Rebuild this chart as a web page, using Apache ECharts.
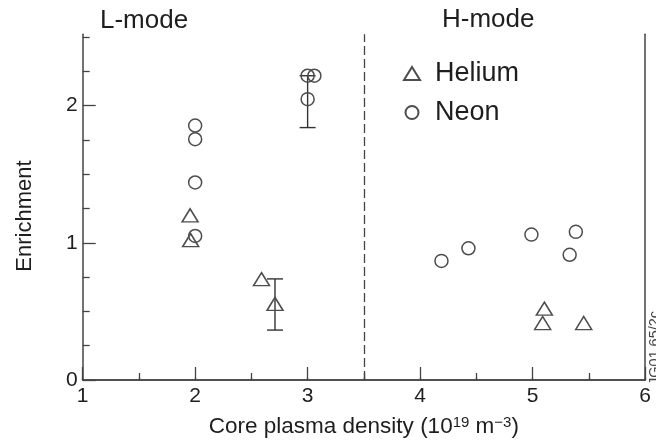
<!DOCTYPE html>
<html><head><meta charset="utf-8">
<script src="https://cdn.jsdelivr.net/npm/echarts@6/dist/echarts.min.js"></script>
<style>html,body{margin:0;padding:0;background:#fff}#chart{width:656px;height:443px}</style>
</head><body><div id="chart"></div>
<script>
// Impurity enrichment versus core plasma density, L-mode and H-mode discharges
const xMin = 1, xMax = 6;
const yMin = 0, yMax = 2.52;
const yMajorTicks = [0, 1, 2];
const yMinorTicks = [0.25, 0.5, 0.75, 1.25, 1.5, 1.75, 2.25, 2.5];
const modeBoundary = 3.5;

const heliumDensity    = [1.955, 1.96, 2.59, 2.71, 5.105, 5.09, 5.455];
const heliumEnrichment = [1.20, 1.02, 0.735, 0.555, 0.52, 0.415, 0.415];

const neonDensity    = [2.0, 2.0, 2.0, 2.0, 3.0, 3.06, 3.0, 4.19, 4.43, 4.99, 5.33, 5.385];
const neonEnrichment = [1.855, 1.755, 1.44, 1.05, 2.218, 2.218, 2.047, 0.868, 0.96, 1.06, 0.913, 1.08];

// error bars: density, lower and upper enrichment
const errDensity = [3.0, 2.71];
const errLow     = [1.84, 0.364];
const errHigh    = [2.218, 0.737];

const FONT = '"Liberation Sans", Arial, Helvetica, sans-serif';
const INK = '#1e1e1e';
const LINE = '#444';
const MARK = '#4d4d4d';

const pairs = (xs, ys) => xs.map((x, i) => [x, ys[i]]);
const errData = errDensity.map((x, i) => [x, errLow[i], errHigh[i]]);

const chart = echarts.init(document.getElementById('chart'), null, {renderer: 'canvas'});

const hidden = {show: false};
const option = {
  animation: false,
  backgroundColor: '#fff',
  textStyle: {fontFamily: FONT},
  grid: {left: 82.7, right: 11, top: 34.3, bottom: 62.3, containLabel: false},
  xAxis: [{
    type: 'value', position: 'bottom', min: xMin, max: xMax, interval: 1,
    axisLine: {show: true, lineStyle: {color: LINE, width: 1.5}},
    axisTick: {show: true, inside: true, length: 13, lineStyle: {color: LINE, width: 1.3}},
    minorTick: {show: true, splitNumber: 2, length: 7, lineStyle: {color: LINE, width: 1.3}},
    axisLabel: {fontSize: 21, color: INK, margin: 6, fontFamily: FONT},
    splitLine: hidden, minorSplitLine: hidden,
    name: 'Core plasma density (10{sup|19} m{sup|\u22123})',
    nameLocation: 'middle', nameGap: 35,
    nameTextStyle: {
      fontSize: 22.5, color: INK, fontFamily: FONT,
      rich: {sup: {fontSize: 15, verticalAlign: 'top', color: INK, fontFamily: FONT}}
    }
  }, {
    type: 'value', position: 'top', min: xMin, max: xMax, interval: 0.5,
    axisLine: {show: true, lineStyle: {color: LINE, width: 1.5}},
    axisTick: {show: true, inside: false, length: 2.5, lineStyle: {color: LINE, width: 1.3}},
    axisLabel: hidden, splitLine: hidden
  }],
  yAxis: [{
    type: 'value', position: 'left', min: yMin, max: yMax,
    axisLine: {show: true, lineStyle: {color: LINE, width: 1.5}},
    axisTick: {show: true, inside: true, length: 13, customValues: yMajorTicks, lineStyle: {color: LINE, width: 1.3}},
    axisLabel: {fontSize: 21, color: INK, margin: 5, customValues: yMajorTicks, fontFamily: FONT},
    splitLine: hidden
  }, {
    type: 'value', position: 'left', min: yMin, max: yMax,
    axisLine: hidden,
    axisTick: {show: true, inside: true, length: 7, customValues: yMinorTicks, lineStyle: {color: LINE, width: 1.3}},
    axisLabel: hidden, splitLine: hidden
  }, {
    type: 'value', position: 'right', min: yMin, max: yMax,
    axisLine: {show: true, lineStyle: {color: LINE, width: 1.5}},
    axisTick: hidden, axisLabel: hidden, splitLine: hidden
  }],
  legend: {
    orient: 'vertical', left: 403, top: 60, padding: 0,
    itemWidth: 16, itemHeight: 13, itemGap: 12,
    textStyle: {fontSize: 27, color: INK, fontFamily: FONT, lineHeight: 27, padding: [0, 0, 0, 10]},
    data: [{name: 'Helium', icon: 'triangle'}, {name: 'Neon', icon: 'circle'}],
    selectedMode: false
  },
  graphic: [
    {type: 'text', left: 100, top: 8, style: {text: 'L-mode', fontSize: 26, fill: INK, fontFamily: FONT}},
    {type: 'text', left: 442, top: 7, style: {text: 'H-mode', fontSize: 26, fill: INK, fontFamily: FONT}},
    {type: 'text', x: 24.5, y: 216, rotation: Math.PI / 2,
     style: {text: 'Enrichment', fontSize: 22, fill: INK, fontFamily: FONT, align: 'center', verticalAlign: 'middle'}},
    {type: 'text', x: 655, y: 348, rotation: Math.PI / 2,
     style: {text: 'JG01.65/2c', fontSize: 14.5, fill: '#444', fontFamily: FONT, align: 'center', verticalAlign: 'middle'}}
  ],
  series: [{
    name: 'Error', type: 'custom', xAxisIndex: 0, yAxisIndex: 0,
    encode: {x: 0, y: [1, 2]}, data: errData, z: 3,
    renderItem: (params, api) => {
      const x = api.value(0);
      const pLo = api.coord([x, api.value(1)]);
      const pHi = api.coord([x, api.value(2)]);
      const w = 8;
      const style = {stroke: '#333', lineWidth: 1.4, fill: null};
      return {type: 'group', children: [
        {type: 'line', shape: {x1: pLo[0], y1: pLo[1], x2: pHi[0], y2: pHi[1]}, style},
        {type: 'line', shape: {x1: pLo[0] - w, y1: pLo[1], x2: pLo[0] + w, y2: pLo[1]}, style},
        {type: 'line', shape: {x1: pHi[0] - w, y1: pHi[1], x2: pHi[0] + w, y2: pHi[1]}, style}
      ]};
    }
  }, {
    name: 'Helium', type: 'scatter', xAxisIndex: 0, yAxisIndex: 0,
    symbol: 'triangle', symbolSize: [16, 13],
    itemStyle: {color: 'rgba(255,255,255,0)', borderColor: MARK, borderWidth: 1.5, opacity: 1},
    data: pairs(heliumDensity, heliumEnrichment), z: 4
  }, {
    name: 'Neon', type: 'scatter', xAxisIndex: 0, yAxisIndex: 0,
    symbol: 'circle', symbolSize: 13,
    itemStyle: {color: 'rgba(255,255,255,0)', borderColor: MARK, borderWidth: 1.5, opacity: 1},
    data: pairs(neonDensity, neonEnrichment), z: 4,
    markLine: {
      silent: true, symbol: 'none', animation: false,
      label: {show: false},
      lineStyle: {type: [9, 4], color: LINE, width: 1.3},
      data: [{xAxis: modeBoundary}]
    }
  }]
};
chart.setOption(option);
</script></body></html>
